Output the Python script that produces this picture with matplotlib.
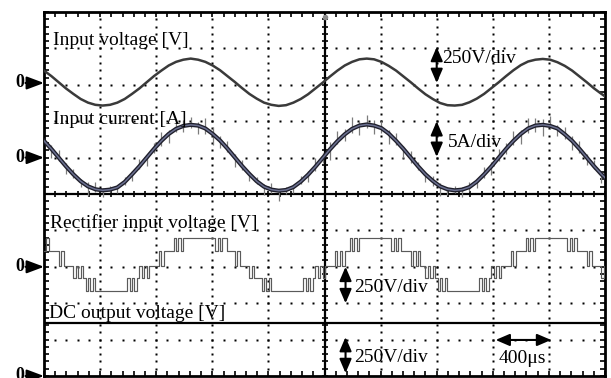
import matplotlib
matplotlib.use("Agg")
import matplotlib.pyplot as plt
import numpy as np

# scope settings: 10 x 10 divisions, 400 us/div
US_PER_DIV = 400.0
TRACE_DT_US = 52.3      # sample spacing of the sine-like traces
RECT_DT_US = 17.43      # sample spacing of the PWM rectifier trace

# input voltage trace, position in divisions (zero marker at 8.05)
INPUT_VOLTAGE_DIV = [
    8.39, 8.24, 8.07, 7.90, 7.75, 7.61, 7.51, 7.45, 7.43, 7.45, 7.51, 7.61,
    7.75, 7.90, 8.07, 8.24, 8.39, 8.53, 8.63, 8.69, 8.72, 8.69, 8.63, 8.53,
    8.40, 8.24, 8.08, 7.91, 7.75, 7.62, 7.51, 7.45, 7.42, 7.44, 7.51, 7.61,
    7.74, 7.90, 8.06, 8.23, 8.39, 8.53, 8.63, 8.70, 8.72, 8.70, 8.63, 8.52,
    8.39, 8.23, 8.07, 7.90, 7.74, 7.61, 7.50, 7.44, 7.43, 7.45, 7.52, 7.62,
    7.75, 7.91, 8.07, 8.24, 8.40, 8.54, 8.64, 8.69, 8.71, 8.69, 8.62, 8.52,
    8.39, 8.23, 8.07, 7.90, 7.75, 7.61,
]

# input current trace (zero marker at 6.0)
INPUT_CURRENT_DIV = [
    6.46, 6.24, 6.00, 5.76, 5.54, 5.35, 5.21, 5.13, 5.10, 5.12, 5.18, 5.33,
    5.54, 5.76, 6.00, 6.24, 6.46, 6.65, 6.79, 6.87, 6.90, 6.88, 6.80, 6.65,
    6.47, 6.25, 6.01, 5.77, 5.55, 5.35, 5.20, 5.12, 5.09, 5.11, 5.19, 5.34,
    5.53, 5.75, 5.99, 6.23, 6.45, 6.64, 6.79, 6.88, 6.91, 6.88, 6.81, 6.66,
    6.46, 6.24, 6.00, 5.76, 5.54, 5.36, 5.21, 5.13, 5.10, 5.12, 5.19, 5.34,
    5.54, 5.76, 6.00, 6.24, 6.46, 6.65, 6.80, 6.88, 6.90, 6.87, 6.80, 6.64,
    6.46, 6.24, 6.00, 5.76, 5.54, 5.35,
]

# switching noise on the current, extent above / below the trace (div)
CURRENT_SPIKE_UP = [
    0.18, 0.10, 0.22, 0.08, 0.15, 0.05, 0.12, 0.20, 0.06, 0.10, 0.04, 0.14,
    0.09, 0.21, 0.07, 0.16, 0.25, 0.12, 0.28, 0.15, 0.22, 0.10, 0.30, 0.18,
    0.12, 0.20, 0.08, 0.16, 0.05, 0.11, 0.07, 0.18, 0.04, 0.09, 0.06, 0.15,
    0.10, 0.24, 0.13, 0.19, 0.27, 0.14, 0.32, 0.12, 0.25, 0.16, 0.20, 0.09,
    0.22, 0.08, 0.17, 0.12, 0.06, 0.14, 0.09, 0.05, 0.11, 0.07, 0.13, 0.08,
    0.20, 0.11, 0.23, 0.17, 0.26, 0.12, 0.29, 0.21, 0.15, 0.27, 0.10, 0.19,
    0.14, 0.21, 0.09, 0.17, 0.07, 0.12,
]
CURRENT_SPIKE_DOWN = [
    0.12, 0.25, 0.09, 0.20, 0.11, 0.16, 0.27, 0.08, 0.18, 0.06, 0.14, 0.09,
    0.19, 0.07, 0.22, 0.10, 0.13, 0.26, 0.09, 0.17, 0.08, 0.24, 0.14, 0.31,
    0.20, 0.09, 0.26, 0.12, 0.18, 0.08, 0.23, 0.10, 0.28, 0.12, 0.16, 0.07,
    0.21, 0.11, 0.15, 0.29, 0.08, 0.19, 0.12, 0.27, 0.10, 0.22, 0.13, 0.30,
    0.11, 0.24, 0.15, 0.09, 0.21, 0.13, 0.26, 0.17, 0.08, 0.20, 0.12, 0.18,
    0.10, 0.25, 0.09, 0.15, 0.11, 0.28, 0.13, 0.18, 0.31, 0.09, 0.22, 0.14,
    0.26, 0.10, 0.19, 0.08, 0.23, 0.12,
]

# rectifier input voltage: multilevel PWM, level index -2..2 per sample
RECT_LEVEL = [
    1, 2, 1, 1, 1, 1, 0, 1, 0, 0, 0, 0, -1, 0, -1, 0, -1, -2, -1, -2, -1,
    -2, -2, -2, -2, -2, -2, -2, -2, -2, -2, -2, -2, -2,
    -1, -2, -1, -2, -1, 0, -1, 0, -1, 0, 0, 0, 0, 1, 0, 1, 1, 1, 1, 2, 1, 2, 1,
    2, 2, 2, 2, 2, 2, 2, 2, 2, 2, 2, 2, 2, 1, 2,
    1, 2, 2, 1, 1, 1, 0, 1, 0, 0, 0, 0, -1, 0, -1, -1, -1, -2, -1, -2, -1,
    -2, -2, -2, -2, -2, -2, -2, -2, -2, -2, -2, -2, -2,
    -1, -2, -1, -2, -1, 0, -1, 0, -1, 0, 0, 0, 0, 1, 0, 1, 0, 1, 1, 2, 1, 2, 1,
    2, 2, 2, 2, 2, 2, 2, 2, 2, 2, 2, 2, 2, 1, 2,
    1, 2, 1, 1, 1, 1, 0, 1, 0, 1, 0, 0, -1, 0, -1, 0, -1, -2, -1, -2, -1,
    -2, -2, -2, -2, -2, -2, -2, -2, -2, -2, -2, -2, -2,
    -1, -2, -1, -2, -1, 0, -1, 0, -1, 0, 0, 0, 0, 1, 0, 1, 1, 1, 1, 2, 1, 2, 1,
    2, 2, 2, 2, 2, 2, 2, 2, 2, 2, 2, 2, 2, 1, 2,
    1, 2, 1, 1, 1, 1, 0, 1, 0, 0, 0, 0, -1, 0, -1,
]
RECT_LEVEL_DIV = [2.34, 2.70, 3.03, 3.44, 3.80]   # levels -2, -1, 0, 1, 2

DC_OUTPUT_T_US = [0.0, 4000.0]
DC_OUTPUT_DIV = [1.46, 1.46]

ZERO_MARKERS_DIV = [8.05, 6.0, 3.0, 0.0]

SERIF = "Liberation Serif"

fig = plt.figure(figsize=(6.11, 3.78), dpi=100)
ax = fig.add_axes([44 / 611, 2 / 378, 561 / 611, 364 / 378])
ax.set_xlim(0, 10)
ax.set_ylim(0, 10)

# graticule: dotted division lines, solid centre cross with ticks
sub = np.arange(0, 10.001, 0.2)
for k in [1, 2, 3, 4, 6, 7, 8, 9]:
    ax.plot(np.full_like(sub, k), sub, ls="none", marker="s", ms=1.6,
            color="k", mec="none", zorder=1)
    ax.plot(sub, np.full_like(sub, k), ls="none", marker="s", ms=1.6,
            color="k", mec="none", zorder=1)
ax.axvline(5, color="k", lw=1.6, zorder=1)
ax.axhline(5, color="k", lw=1.6, zorder=1)
ax.plot(np.full_like(sub, 5), sub, ls="none", marker="_", ms=5, mew=1.2, color="k")
ax.plot(sub, np.full_like(sub, 5), ls="none", marker="|", ms=5, mew=1.2, color="k")
ax.plot(5, 9.86, "o", ms=3, color="#8a8a8a", zorder=4)

ax.set_xticks(sub)
ax.set_yticks(sub)
ax.tick_params(direction="in", length=3.5, width=1.2, top=True, right=True,
               labelbottom=False, labelleft=False)
for sp in ax.spines.values():
    sp.set_linewidth(2.0)

# traces
t = np.arange(len(INPUT_VOLTAGE_DIV)) * TRACE_DT_US / US_PER_DIV
ax.plot(t, INPUT_VOLTAGE_DIV, color="#3a3a3a", lw=1.8, zorder=3)

cur = np.array(INPUT_CURRENT_DIV)
ax.vlines(t, cur - np.array(CURRENT_SPIKE_DOWN), cur + np.array(CURRENT_SPIKE_UP),
          color="#7c7c7c", lw=0.9, zorder=2)
ax.plot(t, cur, color="#1e1e2a", lw=3.0, zorder=3)
ax.plot(t, cur, color="#6b7090", lw=1.1, zorder=3)

tr = np.arange(len(RECT_LEVEL)) * RECT_DT_US / US_PER_DIV
rect = np.array(RECT_LEVEL_DIV)[np.array(RECT_LEVEL) + 2]
ax.plot(tr, rect, drawstyle="steps-post", color="#5a5a5a", lw=0.85, zorder=3)

ax.plot(np.array(DC_OUTPUT_T_US) / US_PER_DIV, DC_OUTPUT_DIV, color="k", lw=1.6, zorder=3)

# channel names
txt = dict(fontsize=14, family=SERIF, va="baseline", zorder=5)
ax.text(0.16, 9.09, "Input voltage [V]", **txt)
ax.text(0.16, 6.92, "Input current [A]", **txt)
ax.text(0.11, 4.07, "Rectifier input voltage [V]", **txt)
ax.text(0.09, 1.59, "DC output voltage [V]", **txt)

# scale indicators
arrow = dict(arrowstyle="<|-|>,head_length=0.7,head_width=0.3", color="k",
             lw=1.5, mutation_scale=12, shrinkA=0, shrinkB=0)
ax.annotate("", xy=(7.0, 9.04), xytext=(7.0, 8.05), arrowprops=arrow)
ax.text(7.1, 8.6, "250V/div", **txt)
ax.annotate("", xy=(7.0, 7.0), xytext=(7.0, 6.02), arrowprops=arrow)
ax.text(7.2, 6.29, "5A/div", **txt)
ax.annotate("", xy=(5.375, 3.0), xytext=(5.375, 2.0), arrowprops=arrow)
ax.text(5.52, 2.31, "250V/div", **txt)
ax.annotate("", xy=(5.375, 1.07), xytext=(5.375, 0.08), arrowprops=arrow)
ax.text(5.52, 0.38, "250V/div", **txt)
ax.annotate("", xy=(8.05, 0.99), xytext=(9.04, 0.99), arrowprops=arrow)
ax.text(8.1, 0.36, "400\u03bcs", **txt)

# ground markers on the left
for y0 in ZERO_MARKERS_DIV:
    ax.annotate("", xy=(0, y0), xytext=(-0.33, y0), annotation_clip=False,
                arrowprops=dict(arrowstyle="-|>,head_length=0.8,head_width=0.3",
                                color="k", lw=1.5, mutation_scale=13,
                                shrinkA=0, shrinkB=0))
    ax.text(-0.43, y0, "0", fontsize=13, family=SERIF, fontweight="bold",
            ha="center", va="center", clip_on=False)

fig.savefig("out.png", dpi=100)
